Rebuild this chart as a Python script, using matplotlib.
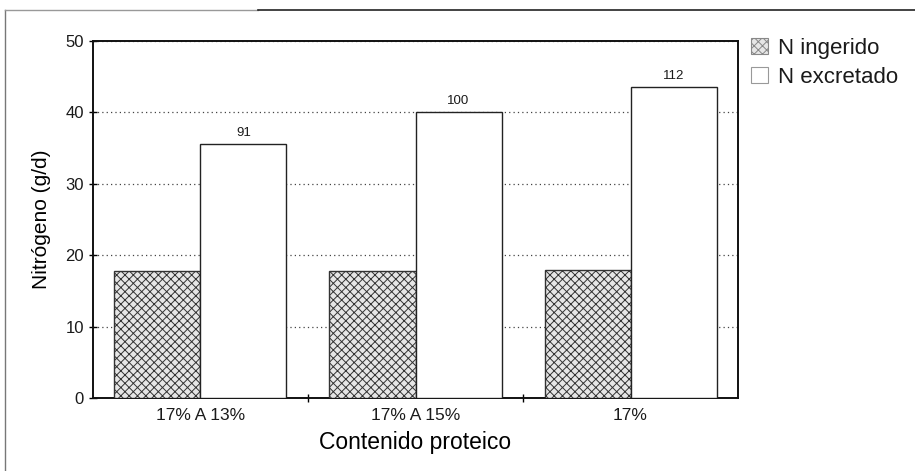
import matplotlib.pyplot as plt
import matplotlib.patches as mpatches
import numpy as np

# Nitrogen intake vs excretion per protein regime
categorias = ['17% A 13%', '17% A 15%', '17%']
n_ingerido = [17.8, 17.8, 17.9]
n_excretado = [35.6, 40.0, 43.6]
etiquetas = ['91', '100', '112']

plt.rcParams['font.family'] = ['Liberation Sans', 'DejaVu Sans']
plt.rcParams['text.color'] = '#1a1a1a'
plt.rcParams['hatch.linewidth'] = 0.7
plt.rcParams['hatch.color'] = '#666666'

fig = plt.figure(figsize=(9.15, 4.71), dpi=100)
ax = fig.add_axes([0.1016, 0.155, 0.705, 0.758])

x = np.arange(len(categorias))
w = 0.4
b1 = ax.bar(x - w / 2, n_ingerido, w, facecolor='#e6e6e6', edgecolor='#333333',
            hatch='xxxx', linewidth=1.0, zorder=3, label='N ingerido')
b2 = ax.bar(x + w / 2, n_excretado, w, facecolor='white', edgecolor='#222222',
            linewidth=1.0, zorder=3, label='N excretado')

for rect, txt in zip(b2, etiquetas):
    ax.text(rect.get_x() + rect.get_width() / 2, rect.get_height() + 0.7, txt,
            ha='center', va='bottom', fontsize=9.5)

ax.set_xlim(-0.5, 2.5)
ax.set_ylim(0, 50)
ax.set_yticks([0, 10, 20, 30, 40, 50])
ax.set_xticks(x)
ax.set_xticklabels(categorias, fontsize=12.5)
ax.set_xticks([0.5, 1.5], minor=True)
ax.tick_params(axis='x', which='major', length=0, pad=7, labelcolor='#1a1a1a')
ax.tick_params(axis='x', which='minor', length=6, direction='inout', width=1)
ax.tick_params(axis='y', labelsize=12, length=6, direction='inout', width=1, labelcolor='#1a1a1a')
ax.yaxis.grid(True, linestyle=(0, (1, 2.5)), color='#444444', linewidth=0.9, zorder=0)

for s in ax.spines.values():
    s.set_linewidth(1.4)
    s.set_color('#111111')

ax.set_ylabel('Nitrógeno (g/d)', fontsize=15, labelpad=10)
ax.set_xlabel('Contenido proteico', fontsize=16.5, labelpad=6)

h1 = mpatches.Patch(facecolor='#e6e6e6', edgecolor='#888888', hatch='xxxx', linewidth=0.8)
h2 = mpatches.Patch(facecolor='white', edgecolor='#999999', linewidth=0.8)
fig.legend([h1, h2], ['N ingerido', 'N excretado'], loc='upper left',
           bbox_to_anchor=(0.799, 0.962), frameon=False, fontsize=16,
           handlelength=0.75, handleheight=0.75, handletextpad=0.45, labelspacing=0.35)

# outer frame lines
fig.add_artist(plt.Line2D([5 / 915, 5 / 915], [0, 1 - 10 / 471], color='#777777', lw=1.0))
fig.add_artist(plt.Line2D([5 / 915, 258 / 915], [1 - 10 / 471, 1 - 10 / 471], color='#999999', lw=1.0))
fig.add_artist(plt.Line2D([258 / 915, 1], [1 - 10 / 471, 1 - 10 / 471], color='#222222', lw=1.2))

fig.savefig('out.png', dpi=100)
